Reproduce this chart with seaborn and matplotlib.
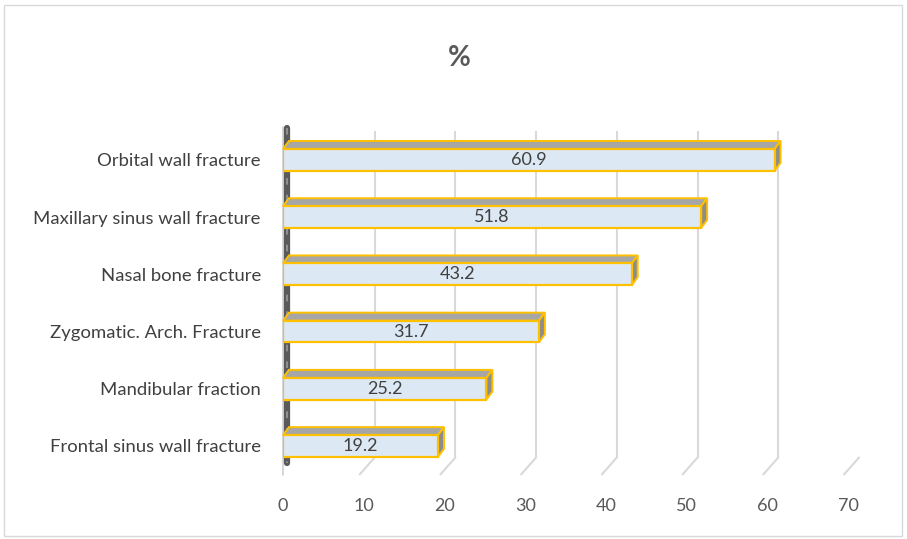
import numpy as np
import pandas as pd
import matplotlib
matplotlib.use('Agg')
import matplotlib.pyplot as plt
import matplotlib.transforms as mtransforms
from matplotlib.patches import Polygon, Rectangle
import seaborn as sns

categories = ["Orbital wall fracture", "Maxillary sinus wall fracture", "Nasal bone fracture",
              "Zygomatic. Arch. Fracture", "Mandibular fraction", "Frontal sinus wall fracture"]
values = [60.9, 51.8, 43.2, 31.7, 25.2, 19.2]
x_ticks = [0, 10, 20, 30, 40, 50, 60, 70]
title = "%"

df = pd.DataFrame({"category": categories, "value": values})

sns.set_style("white")
plt.rcParams['font.family'] = ['Lato', 'DejaVu Sans']

fig = plt.figure(figsize=(9.07, 5.39), dpi=100)
ax = fig.add_axes([0.312, 0.1195, 0.623, 0.637])

sns.barplot(data=df, x="value", y="category", orient="h", width=0.38,
            color="#dde8f5", edgecolor="#ffc000", linewidth=1.6, saturation=1, ax=ax, zorder=5)

ax.set_xlim(0, 70)
ax.set_ylim(5.5, -0.5)
for s in ax.spines.values():
    s.set_visible(False)
ax.set_xlabel("")
ax.set_ylabel("")
ax.set_xticks(x_ticks)
ax.tick_params(axis="x", length=0, pad=17, labelsize=13, labelcolor="#595959")
ax.tick_params(axis="y", length=0, pad=16, labelsize=13.3, labelcolor="#404040")

# back wall gridlines (shifted for the 3D look)
back = ax.transData + mtransforms.ScaledTranslation(0.11, 0, fig.dpi_scale_trans)
for v in x_ticks[1:]:
    ax.plot([v, v], [-0.64, 5.2], color="#d9d9d9", lw=1.5, transform=back, zorder=1)
    p0 = back.transform((v, 5.2))
    p1 = ax.transData.transform((v, 5.2)) + np.array([-4, -17])
    q0, q1 = ax.transData.inverted().transform([p0, p1])
    ax.plot([q0[0], q1[0]], [q0[1], q1[1]], color="#d9d9d9", lw=1.5, zorder=1, clip_on=False)

# left wall
ax.plot([0, 0], [-0.58, 5.5], color="#cfcfcf", lw=1.2, zorder=2, clip_on=False)
wall = ax.transData + mtransforms.ScaledTranslation(0.045, 0, fig.dpi_scale_trans)
ax.plot([0, 0], [-0.55, 5.3], color="#5a5a5a", lw=4.5, transform=wall, zorder=2, clip_on=False)
ax.plot([0, 0], [-0.55, 5.3], color="#9a9a9a", lw=1.2, ls=(0, (4, 6)),
        transform=wall, zorder=3, clip_on=False)

# 3D top and side faces for each bar
inv = ax.transData.inverted()
dx, dy = 6, 8
for bar, v in zip(ax.patches, values):
    x0, y0 = bar.get_x(), bar.get_y()
    w, h = bar.get_width(), bar.get_height()
    tl = ax.transData.transform((x0, y0))
    tr = ax.transData.transform((x0 + w, y0))
    br = ax.transData.transform((x0 + w, y0 + h))
    off = np.array([dx, dy])
    top = inv.transform([tl, tr, tr + off, tl + off])
    side = inv.transform([tr, br, br + off, tr + off])
    ax.add_patch(Polygon(top, closed=True, facecolor="#a6a6a6", edgecolor="#ffc000",
                         lw=1.4, zorder=4, clip_on=False))
    ax.add_patch(Polygon(side, closed=True, facecolor="#8c8c8c", edgecolor="#ffc000",
                         lw=1.4, zorder=4, clip_on=False))
    ax.text(x0 + w / 2, y0 + h / 2, f"{v}", ha="center", va="center",
            fontsize=13, color="#404040", zorder=6)

fig.text(0.506, 0.893, title, ha="center", va="center", fontsize=20,
         fontweight="bold", color="#595959")

fig.patches.append(Rectangle((0.004, 0.006), 0.99, 0.985, transform=fig.transFigure,
                             fill=False, edgecolor="#d9d9d9", lw=1))

fig.savefig("out.png", dpi=100)
